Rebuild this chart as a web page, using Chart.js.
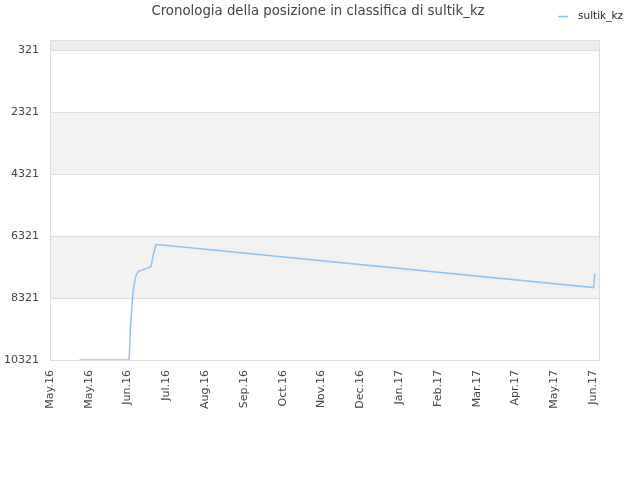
<!DOCTYPE html>
<html lang="it">
<head>
    <meta charset="UTF-8">
    <title>Cronologia della posizione in classifica di sultik_kz</title>
    <script src="https://cdn.jsdelivr.net/npm/chart.js"></script>
    <style>
        html, body { margin: 0; padding: 0; background: #fff; }
        #wrap { width: 640px; height: 480px; position: relative; }
    </style>
</head>
<body>
<div id="wrap"><canvas id="rankChart" width="640" height="480"></canvas></div>
<script>
    // days since the first tick, and the ranking on that day
    const dayValues = [23, 62, 63, 65, 67, 69, 79, 81, 83, 86, 426, 427];
    const rankValues = [10321, 10321, 9273, 8111, 7627, 7466, 7305, 6918, 6595, 6600, 7982, 7530];
    const monthLabels = ['May.16', 'May.16', 'Jun.16', 'Jul.16', 'Aug.16', 'Sep.16', 'Oct.16', 'Nov.16',
        'Dec.16', 'Jan.17', 'Feb.17', 'Mar.17', 'Apr.17', 'May.17', 'Jun.17'];
    const rankTicks = [321, 2321, 4321, 6321, 8321, 10321];
    const seriesName = 'sultik_kz';
    const titleText = 'Cronologia della posizione in classifica di sultik_kz';
    const daysPerTick = 30.4;

    const lineColor = '#90c3f3';
    const fontFamily = '"DejaVu Sans", sans-serif';

    // alternating grey bands behind the plot + frame, title and legend
    const bandsPlugin = {
        id: 'bands',
        beforeDraw(chart) {
            const { ctx, chartArea: a, scales: { y } } = chart;
            const edges = [y.min].concat(rankTicks);
            ctx.save();
            for (let i = 0; i < edges.length - 1; i++) {
                if (i % 2 === 1) continue;
                const y0 = y.getPixelForValue(edges[i]);
                const y1 = y.getPixelForValue(edges[i + 1]);
                ctx.fillStyle = i === 0 ? '#ececec' : '#f2f2f2';
                ctx.fillRect(a.left, y0, a.right - a.left, y1 - y0);
            }
            ctx.restore();
        },
        afterDraw(chart) {
            const { ctx, chartArea: a } = chart;
            ctx.save();
            ctx.strokeStyle = '#dddddd';
            ctx.lineWidth = 1;
            ctx.strokeRect(a.left + 0.5, a.top + 0.5, a.right - a.left - 1, a.bottom - a.top);
            // title
            ctx.fillStyle = '#444';
            ctx.font = '13.3px ' + fontFamily;
            ctx.textAlign = 'center';
            ctx.textBaseline = 'middle';
            ctx.fillText(titleText, 318, 12);
            // legend
            ctx.strokeStyle = lineColor;
            ctx.lineWidth = 1.5;
            ctx.beginPath();
            ctx.moveTo(558, 16.5);
            ctx.lineTo(568, 16.5);
            ctx.stroke();
            ctx.fillStyle = '#222';
            ctx.font = '10.5px ' + fontFamily;
            ctx.textAlign = 'left';
            ctx.fillText(seriesName, 578, 16);
            ctx.restore();
        }
    };

    new Chart(document.getElementById('rankChart'), {
        type: 'line',
        data: {
            datasets: [{
                label: seriesName,
                data: dayValues.map((d, i) => ({ x: d, y: rankValues[i] })),
                borderColor: lineColor,
                borderWidth: 1.5,
                pointRadius: 0,
                tension: 0,
                fill: false
            }]
        },
        options: {
            responsive: false,
            animation: false,
            layout: { padding: { top: 40, right: 40, left: 0, bottom: 0 } },
            plugins: {
                legend: { display: false },
                title: { display: false },
                tooltip: { enabled: false }
            },
            scales: {
                x: {
                    type: 'linear',
                    min: 0,
                    max: 431,
                    afterBuildTicks: s => { s.ticks = monthLabels.map((_, i) => ({ value: i * daysPerTick })); },
                    afterFit: s => { s.height = 120; },
                    grid: { display: false, drawTicks: false },
                    border: { display: false },
                    ticks: {
                        autoSkip: false,
                        minRotation: 90,
                        maxRotation: 90,
                        padding: 10,
                        color: '#444',
                        font: { family: fontFamily, size: 11 },
                        callback: (v) => monthLabels[Math.round(v / daysPerTick)]
                    }
                },
                y: {
                    reverse: true,
                    min: -20,
                    max: 10321,
                    afterBuildTicks: s => { s.ticks = rankTicks.map(v => ({ value: v })); },
                    afterFit: s => { s.width = 50; },
                    grid: { color: '#dddddd', drawTicks: false },
                    border: { display: false },
                    ticks: {
                        padding: 11,
                        color: '#444',
                        font: { family: fontFamily, size: 11 },
                        callback: v => String(v)
                    }
                }
            }
        },
        plugins: [bandsPlugin]
    });
</script>
</body>
</html>
